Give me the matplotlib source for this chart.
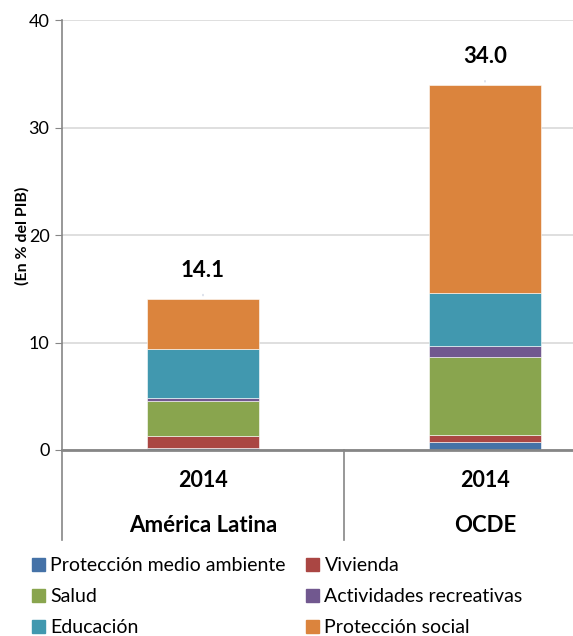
import matplotlib.pyplot as plt
import numpy as np
from matplotlib.patches import Patch

plt.rcParams['font.family'] = ['Lato', 'DejaVu Sans']

regions = ['América Latina', 'OCDE']
years = ['2014', '2014']
series = ['Protección medio ambiente', 'Vivienda', 'Salud',
          'Actividades recreativas', 'Educación', 'Protección social']
medio_ambiente = [0.2, 0.75]
vivienda = [1.1, 0.68]
salud = [3.3, 7.27]
recreativas = [0.25, 0.96]
educacion = [4.55, 4.97]
proteccion_social = [4.7, 19.37]
totals = [14.1, 34.0]

colors = ['#4572A7', '#AA4643', '#89A54E', '#71588F', '#4198AF', '#DB843D']
values = [medio_ambiente, vivienda, salud, recreativas, educacion, proteccion_social]

W, H = 573, 636
fig = plt.figure(figsize=(W / 100, H / 100), dpi=100)
ax = fig.add_axes([62 / W, (H - 450) / H, 564 / W, (450 - 20.3) / H])

x = np.arange(len(regions))
bottom = np.zeros(len(regions))
for vals, c, name in zip(values, colors, series):
    ax.bar(x, vals, 0.4, bottom=bottom, color=c, label=name, zorder=2,
           edgecolor='white', linewidth=0.4)
    bottom += np.array(vals)

for xi, t in zip(x, totals):
    ax.annotate(f'{t:.1f}', (xi, t), xytext=(0, 20.5), textcoords='offset points',
                ha='center', va='center', fontsize=16, fontweight='bold')
    ax.annotate('', (xi, t), xytext=(0, 5), textcoords='offset points',
                arrowprops=dict(arrowstyle='-', color='#C5CCDD', lw=0.8))

ax.set_xlim(-0.5, 1.5)
ax.set_ylim(0, 40)
ax.set_yticks([0, 10, 20, 30, 40])
ax.tick_params(axis='y', labelsize=13, length=5, color='#868686', pad=4)
ax.set_xticks([])
ax.grid(axis='y', color='#D9D9D9', lw=1.2, zorder=0)
for s in ['top', 'right']:
    ax.spines[s].set_visible(False)
for s in ['left', 'bottom']:
    ax.spines[s].set_color('#868686')
ax.spines['left'].set_linewidth(1.2)
ax.spines['bottom'].set_linewidth(2)
ax.spines['left'].set_bounds(-8.4, 40)

ax.plot([0.5, 0.5], [0, -8.4], color='#868686', lw=1.2, clip_on=False)
for xi, yr, reg in zip(x, years, regions):
    ax.text(xi, -2.85, yr, ha='center', va='center', fontsize=15.5, fontweight='bold')
    ax.text(xi, -7.0, reg, ha='center', va='center', fontsize=16, fontweight='bold')

fig.text(22 / W, 1 - 236 / H, '(En % del PIB)', rotation=90, ha='center',
         va='center', fontsize=11.5, fontweight='bold')

handles = [Patch(color=c) for c in colors]
leg_kw = dict(frameon=False, fontsize=14, handlelength=0.65, handleheight=0.65,
              handletextpad=0.3, labelspacing=0.72, borderpad=0, borderaxespad=0,
              loc='upper left')
fig.legend([handles[i] for i in (0, 2, 4)], [series[i] for i in (0, 2, 4)],
           bbox_to_anchor=(32 / W, 1 - 557 / H), **leg_kw)
fig.legend([handles[i] for i in (1, 3, 5)], [series[i] for i in (1, 3, 5)],
           bbox_to_anchor=(306 / W, 1 - 557 / H), **leg_kw)

fig.savefig('out.png', dpi=100)
